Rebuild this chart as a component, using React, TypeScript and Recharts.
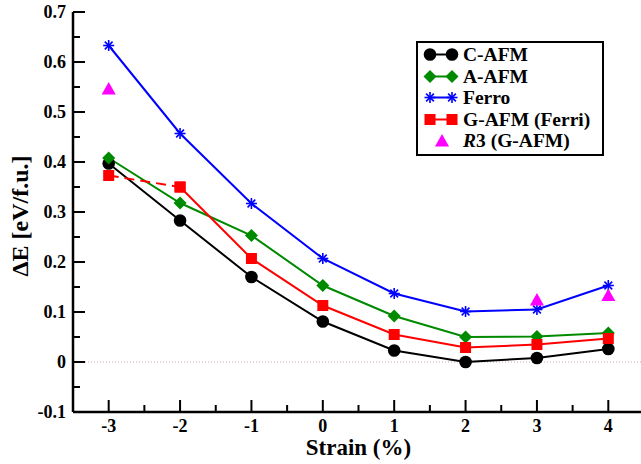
import React from "react";
import { LineChart, Line, XAxis, YAxis, ReferenceLine, Legend } from "recharts";

const strains = [-3, -2, -1, 0, 1, 2, 3, 4];
const cAfm = [0.397, 0.283, 0.17, 0.081, 0.023, 0.0, 0.008, 0.026];
const aAfm = [0.408, 0.318, 0.253, 0.153, 0.092, 0.05, 0.051, 0.058];
const ferro = [0.633, 0.457, 0.317, 0.207, 0.137, 0.101, 0.105, 0.153];
const gAfm = [0.373, 0.35, 0.207, 0.113, 0.055, 0.029, 0.035, 0.047];
const r3 = [0.545, null, null, null, null, null, 0.123, 0.132];

const xTicks = [-3, -2.5, -2, -1.5, -1, -0.5, 0, 0.5, 1, 1.5, 2, 2.5, 3, 3.5, 4];
const yTicks = [-0.1, -0.05, 0, 0.05, 0.1, 0.15, 0.2, 0.25, 0.3, 0.35, 0.4, 0.45, 0.5, 0.55, 0.6, 0.65, 0.7];

// dashed red piece joins -3 and -2 only, the rest is solid
const data = strains.map((s, i) => ({
  strain: s,
  cAfm: cAfm[i],
  aAfm: aAfm[i],
  ferro: ferro[i],
  gSolid: i >= 1 ? gAfm[i] : null,
  gDash: i <= 1 ? gAfm[i] : null,
  r3: r3[i],
}));

const FONT = "Liberation Serif, Times New Roman, Tinos, DejaVu Serif, serif";
const AXIS = { stroke: "#000", strokeWidth: 2.5 };

const isMajor = (v: number, step: number) =>
  Math.abs(Math.round(v / step) * step - v) < 1e-9;

type Shape = "circle" | "diamond" | "star" | "square" | "triangle";

function Marker({ shape, color, cx, cy }: { shape: Shape; color: string; cx: number; cy: number }) {
  if (shape === "circle") return <circle cx={cx} cy={cy} r={6.3} fill={color} />;
  if (shape === "square")
    return <rect x={cx - 5.5} y={cy - 5.5} width={11} height={11} fill={color} />;
  if (shape === "diamond")
    return (
      <polygon
        points={`${cx},${cy - 6.5} ${cx + 6.5},${cy} ${cx},${cy + 6.5} ${cx - 6.5},${cy}`}
        fill={color}
      />
    );
  if (shape === "triangle")
    return (
      <polygon
        points={`${cx},${cy - 7.5} ${cx + 7},${cy + 5} ${cx - 7},${cy + 5}`}
        fill={color}
      />
    );
  const r = 5.5;
  const d = r * 0.707;
  return (
    <g stroke={color} strokeWidth={1.6}>
      <line x1={cx - r} y1={cy} x2={cx + r} y2={cy} />
      <line x1={cx} y1={cy - r} x2={cx} y2={cy + r} />
      <line x1={cx - d} y1={cy - d} x2={cx + d} y2={cy + d} />
      <line x1={cx - d} y1={cy + d} x2={cx + d} y2={cy - d} />
    </g>
  );
}

const makeDot = (name: string, shape: Shape, color: string) => (p: any) => {
  const key = `${name}-${p.index}`;
  if (p.value == null || p.cx == null || p.cy == null) return <g key={key} />;
  return (
    <g key={key}>
      <Marker shape={shape} color={color} cx={p.cx} cy={p.cy} />
    </g>
  );
};

const legendItems: { label: React.ReactNode; shape: Shape; color: string; line: boolean }[] = [
  { label: "C-AFM", shape: "circle", color: "#000000", line: true },
  { label: "A-AFM", shape: "diamond", color: "#008a00", line: true },
  { label: "Ferro", shape: "star", color: "#0000ff", line: true },
  { label: "G-AFM (Ferri)", shape: "square", color: "#ff0000", line: true },
  { label: <><i>R</i>3 (G-AFM)</>, shape: "triangle", color: "#ff00ff", line: false },
];

function LegendBox() {
  return (
    <div
      style={{
        border: "2px solid #000",
        background: "#fff",
        width: 184,
        height: 110,
        boxSizing: "content-box",
        paddingTop: 1,
        fontFamily: FONT,
        fontWeight: "bold",
        fontSize: 19.5,
      }}
    >
      {legendItems.map((it, i) => (
        <div key={i} style={{ display: "flex", alignItems: "center", height: 21.5, lineHeight: "21.5px" }}>
          <svg width={45} height={21} style={{ flex: "none" }}>
            {it.line && <line x1={12} y1={10.5} x2={34} y2={10.5} stroke={it.color} strokeWidth={2} />}
            {it.line ? (
              <>
                <Marker shape={it.shape} color={it.color} cx={12} cy={10.5} />
                <Marker shape={it.shape} color={it.color} cx={34} cy={10.5} />
              </>
            ) : (
              <Marker shape={it.shape} color={it.color} cx={24} cy={11.5} />
            )}
          </svg>
          <span style={{ whiteSpace: "nowrap" }}>{it.label}</span>
        </div>
      ))}
    </div>
  );
}

function BottomTick({ x, y, payload }: any) {
  const v = payload.value;
  const major = isMajor(v, 1);
  return (
    <g>
      <line x1={x} y1={y} x2={x} y2={y - (major ? 12 : 7)} stroke="#000" strokeWidth={2} />
      {major && (
        <text x={x} y={y + 20} textAnchor="middle" fontFamily={FONT} fontWeight="bold" fontSize={18} fill="#000">
          {v}
        </text>
      )}
    </g>
  );
}

function TopTick({ x, y, payload }: any) {
  const major = isMajor(payload.value, 1);
  return <line x1={x} y1={y} x2={x} y2={y + (major ? 12 : 7)} stroke="#000" strokeWidth={2} />;
}

function LeftTick({ x, y, payload }: any) {
  const v = payload.value;
  const major = isMajor(v, 0.1);
  const label = Math.abs(v) < 1e-9 ? "0" : v.toFixed(1);
  return (
    <g>
      <line x1={x} y1={y} x2={x + (major ? 12 : 7)} y2={y} stroke="#000" strokeWidth={2} />
      {major && (
        <text x={x - 7} y={y + 6} textAnchor="end" fontFamily={FONT} fontWeight="bold" fontSize={18} fill="#000">
          {label}
        </text>
      )}
    </g>
  );
}

function RightTick({ x, y, payload }: any) {
  const major = isMajor(payload.value, 0.1);
  return <line x1={x} y1={y} x2={x - (major ? 12 : 7)} y2={y} stroke="#000" strokeWidth={2} />;
}

export default function App() {
  return (
    <div style={{ position: "absolute", left: 0, top: 0, width: 641, height: 464, overflow: "hidden", background: "#fff" }}>
      <LineChart width={650} height={464} data={data} margin={{ top: 12, right: 6, bottom: 0, left: 0 }}>
        <XAxis
          dataKey="strain"
          type="number"
          domain={[-3.5, 4.5]}
          ticks={xTicks}
          interval={0}
          height={52}
          axisLine={AXIS}
          tickLine={false}
          tickSize={0}
          tickMargin={0}
          tick={<BottomTick />}
          label={{
            content: ({ viewBox }: any) => (
              <text
                x={viewBox.x + viewBox.width / 2}
                y={viewBox.y + 42.5}
                textAnchor="middle"
                fontFamily={FONT}
                fontWeight="bold"
                fontSize={23}
                fill="#000"
              >
                Strain (%)
              </text>
            ),
          }}
        />
        <XAxis
          xAxisId="top"
          orientation="top"
          dataKey="strain"
          type="number"
          domain={[-3.5, 4.5]}
          ticks={xTicks}
          interval={0}
          height={0}
          axisLine={AXIS}
          tickLine={false}
          tickSize={0}
          tickMargin={0}
          tick={<TopTick />}
        />
        <YAxis
          type="number"
          domain={[-0.1, 0.7]}
          ticks={yTicks}
          interval={0}
          width={73}
          axisLine={AXIS}
          tickLine={false}
          tickSize={0}
          tickMargin={0}
          tick={<LeftTick />}
          label={{
            content: ({ viewBox }: any) => (
              <text
                transform={`translate(${viewBox.x + 20},${viewBox.y + viewBox.height / 2 + 4}) rotate(-90)`}
                textAnchor="middle"
                dominantBaseline="central"
                fontFamily={FONT}
                fontWeight="bold"
                fontSize={24}
                fill="#000"
              >
                ΔE [eV/f.u.]
              </text>
            ),
          }}
        />
        <YAxis
          yAxisId="right"
          orientation="right"
          type="number"
          domain={[-0.1, 0.7]}
          ticks={yTicks}
          interval={0}
          width={0}
          axisLine={AXIS}
          tickLine={false}
          tickSize={0}
          tickMargin={0}
          tick={<RightTick />}
        />
        <ReferenceLine y={0} stroke="#c8a8a8" strokeDasharray="1 2" strokeWidth={1} />
        <Line dataKey="cAfm" stroke="#000000" strokeWidth={2} dot={makeDot("c", "circle", "#000000")} isAnimationActive={false} />
        <Line dataKey="aAfm" stroke="#008a00" strokeWidth={2} dot={makeDot("a", "diamond", "#008a00")} isAnimationActive={false} />
        <Line dataKey="ferro" stroke="#0000ff" strokeWidth={2} dot={makeDot("f", "star", "#0000ff")} isAnimationActive={false} />
        <Line dataKey="gDash" stroke="#ff0000" strokeWidth={2} strokeDasharray="10 6" dot={makeDot("gd", "square", "#ff0000")} isAnimationActive={false} />
        <Line dataKey="gSolid" stroke="#ff0000" strokeWidth={2} dot={makeDot("gs", "square", "#ff0000")} isAnimationActive={false} />
        <Line dataKey="r3" stroke="none" dot={makeDot("r", "triangle", "#ff00ff")} isAnimationActive={false} />
        <Legend
          layout="vertical"
          align="center"
          verticalAlign="middle"
          wrapperStyle={{ left: 416, top: 41, width: 188, height: 114 }}
          content={() => <LegendBox />}
        />
      </LineChart>
    </div>
  );
}
